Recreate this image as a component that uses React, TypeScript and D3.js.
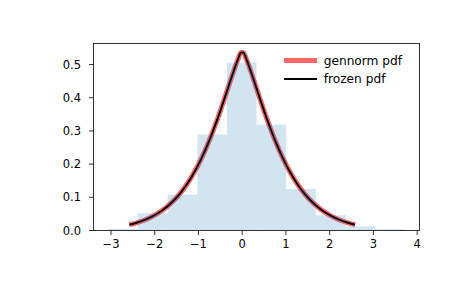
import React from "react";
import * as d3 from "d3";

const binEdges = [-3.059, -2.382, -1.704, -1.027, -0.349, 0.328, 1.006, 1.683, 2.361, 3.038, 3.715];
const binDensity = [0.005, 0.052, 0.108, 0.289, 0.506, 0.319, 0.125, 0.046, 0.012, 0.004];

const pdfX = [
  -2.58, -2.4, -2.2, -2.0, -1.8, -1.6, -1.5, -1.4, -1.3, -1.2, -1.1, -1.0, -0.9, -0.8, -0.7, -0.6, -0.5, -0.4, -0.3, -0.2, -0.1, -0.026,
  0.026, 0.1, 0.2, 0.3, 0.4, 0.5, 0.6, 0.7, 0.8, 0.9, 1.0, 1.1, 1.2, 1.3, 1.4, 1.5, 1.6, 1.8, 2.0, 2.2, 2.4, 2.58,
];
const pdfY = [
  0.0176, 0.0239, 0.0333, 0.0462, 0.0632, 0.0858, 0.0995, 0.115, 0.1326, 0.1523, 0.1745, 0.1991, 0.2263, 0.2561, 0.2885, 0.3234, 0.3605, 0.3994, 0.4391, 0.4784, 0.5147, 0.5365,
  0.5365, 0.5147, 0.4784, 0.4391, 0.3994, 0.3605, 0.3234, 0.2885, 0.2561, 0.2263, 0.1991, 0.1745, 0.1523, 0.1326, 0.115, 0.0995, 0.0858, 0.0632, 0.0462, 0.0333, 0.0239, 0.0176,
];

const xTicks = [-3, -2, -1, 0, 1, 2, 3, 4];
const yTicks = [0.0, 0.1, 0.2, 0.3, 0.4, 0.5];
const legendLabels = ["gennorm pdf", "frozen pdf"];

const W = 465;
const H = 288;
const L = 93.5;
const R = 419.5;
const T = 43.5;
const B = 230.5;
const FONT = "'DejaVu Sans', sans-serif";
const TICK_FS = 11.5;
const LEG_FS = 12.2;

const fmtX = (v: number) => (v < 0 ? "\u2212" + Math.abs(v) : String(v));

export default function App() {
  const x = d3.scaleLinear().domain([-3.4, 4.054]).range([L, R]);
  const y = d3.scaleLinear().domain([0, 0.5634]).range([B, T]);
  const pts = pdfX.map((v, i) => [v, pdfY[i]] as [number, number]);
  const line = d3
    .line<[number, number]>()
    .x((d) => x(d[0]))
    .y((d) => y(d[1]))
    .curve(d3.curveMonotoneX);
  const d = line(pts) || "";

  return (
    <svg width={W} height={H} style={{ display: "block", position: "absolute", left: 0, top: 0 }}>
      <rect x={0} y={0} width={W} height={H} fill="#fff" />
      <path d={d} fill="none" stroke="#ff0000" strokeOpacity={0.6} strokeWidth={5} strokeLinejoin="round" />
      <path d={d} fill="none" stroke="#000" strokeWidth={2} strokeLinejoin="round" />
      {binDensity.map((v, i) => (
        <rect
          key={i}
          x={x(binEdges[i])}
          y={y(v)}
          width={x(binEdges[i + 1]) - x(binEdges[i])}
          height={y(0) - y(v)}
          fill="#1f77b4"
          fillOpacity={0.2}
        />
      ))}
      <rect x={L} y={T} width={R - L} height={B - T} fill="none" stroke="#000" strokeWidth={0.8} />
      {xTicks.map((t) => (
        <g key={t}>
          <line x1={x(t)} x2={x(t)} y1={B} y2={B + 4.5} stroke="#000" strokeWidth={0.8} />
          <text x={x(t)} y={B + 17.5} textAnchor="middle" fontFamily={FONT} fontSize={TICK_FS} fill="#000">
            {fmtX(t)}
          </text>
        </g>
      ))}
      {yTicks.map((t) => (
        <g key={t}>
          <line x1={L - 4.5} x2={L} y1={y(t)} y2={y(t)} stroke="#000" strokeWidth={0.8} />
          <text x={81} y={y(t)} dy="0.36em" textAnchor="end" fontFamily={FONT} fontSize={TICK_FS} fill="#000">
            {t.toFixed(1)}
          </text>
        </g>
      ))}
      <line x1={284} x2={317} y1={60.5} y2={60.5} stroke="#ff0000" strokeOpacity={0.6} strokeWidth={5} />
      <line x1={284} x2={317} y1={79} y2={79} stroke="#000" strokeWidth={2} />
      <text x={323.7} y={60.5} dy="0.36em" fontFamily={FONT} fontSize={LEG_FS} fill="#000">
        {legendLabels[0]}
      </text>
      <text x={323.7} y={79} dy="0.36em" fontFamily={FONT} fontSize={LEG_FS} fill="#000">
        {legendLabels[1]}
      </text>
    </svg>
  );
}
